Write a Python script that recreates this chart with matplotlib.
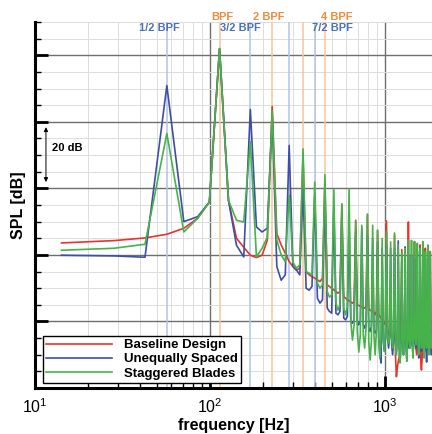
import numpy as np
import matplotlib
matplotlib.use("Agg")
import matplotlib.pyplot as plt
from matplotlib.ticker import MultipleLocator, LogLocator, NullFormatter

plt.rcParams['font.family'] = ['Liberation Sans', 'DejaVu Sans']
plt.rcParams['mathtext.fontset'] = 'custom'
plt.rcParams['mathtext.rm'] = 'Liberation Sans'

# ---- data ----
df = 14.17                      # frequency resolution [Hz]
n_bins = 131
freq = np.arange(1, n_bins + 1) * df

baseline = [
    43.6, 44.3, 45.1, 46.2,  48.0, 51.0, 55.9, 102.0,
    56.4, 45.0, 42.3, 39.9,  39.2, 39.9, 44.4, 84.6,
    46.4, 43.0, 40.5, 38.0,  36.5, 35.4, 36.0, 70.0,
    35.0, 34.0, 33.5, 33.0,  32.5, 32.0, 33.0, 62.0,
    31.0, 30.5, 30.0, 29.5,  29.0, 28.5, 29.0, 55.0,
    27.5, 27.0, 26.5, 26.2,  25.8, 25.5, 26.0, 50.4,
    25.0, 24.8, 24.6, 24.4,  24.2, 24.0, 24.5, 52.2,
    23.6, 23.4, 23.2, 23.0,  22.8, 22.0, 23.0, 47.4,
    22.0, 21.5, 21.0, 20.5,  20.0, 19.5, 19.0, 50.2,
    18.0, 16.0, 17.0, 16.0,  15.0, 13.0, 15.0, 46.0,
    10.0, 3.4, 6.0, 8.0,     9.0, 12.0, 14.0, 41.6,
    15.0, 13.0, 14.0, 15.0,  13.0, 11.0, 14.0, 49.9,
    14.0, 12.0, 13.0, 15.0,  13.5, 14.0, 16.0, 44.0,
    14.0, 12.0, 10.0, 12.0,  14.0, 13.0, 15.0, 43.0,
    8.0, 5.4, 9.0, 12.0,     13.0, 14.0, 15.0, 42.0,
    14.0, 13.0, 12.0, 14.0,  13.0, 12.0, 14.0, 41.0,
    13.0, 12.0, 14.0,
]

unequal = [
    39.9, 39.7, 39.3, 90.9,  50.0, 51.5, 55.9, 102.0,
    56.4, 42.9, 39.4, 83.7,  48.4, 46.9, 48.0, 82.0,
    36.5, 32.4, 34.0, 72.9,  36.6, 35.5, 34.0, 60.0,
    30.0, 29.4, 30.5, 58.0,  27.0, 25.5, 26.5, 58.0,
    24.0, 23.0, 22.5, 55.0,  22.5, 22.0, 23.0, 52.0,
    21.0, 20.5, 21.5, 50.0,  20.0, 19.5, 20.5, 47.0,
    20.0, 19.0, 20.0, 48.0,  19.0, 18.0, 19.5, 46.0,
    18.0, 17.0, 18.5, 45.0,  17.0, 16.5, 17.5, 44.0,
    15.0, 10.0, 7.5, 42.0,   14.0, 11.0, 15.0, 43.0,
    15.0, 12.0, 16.0, 42.0,  13.0, 10.0, 14.0, 42.0,
    14.0, 11.0, 15.0, 44.2,  12.0, 8.0, 13.0, 38.0,
    14.0, 10.0, 15.0, 42.4,  13.0, 9.0, 14.0, 40.0,
    12.0, 14.0, 15.0, 40.0,  13.0, 10.0, 14.0, 39.0,
    14.0, 12.0, 15.0, 41.0,  12.0, 9.0, 13.0, 38.0,
    14.0, 11.0, 15.0, 40.0,  13.0, 10.0, 14.0, 39.0,
    12.0, 7.8, 13.0, 40.0,   14.0, 11.0, 15.0, 39.0,
    13.0, 10.0, 14.0,
]

staggered = [
    41.4, 42.0, 43.2, 76.5,  46.9, 51.0, 55.9, 102.0,
    56.4, 50.4, 49.9, 74.0,  39.4, 42.0, 45.3, 83.4,
    44.5, 40.0, 38.0, 58.0,  37.8, 36.0, 37.0, 71.9,
    35.0, 34.5, 34.0, 61.9,  31.5, 30.0, 31.0, 64.1,
    29.0, 27.3, 28.0, 59.6,  25.5, 23.4, 25.0, 55.4,
    24.0, 22.0, 24.5, 59.9,  20.0, 14.4, 19.0, 50.0,
    17.0, 10.8, 16.0, 48.9,  16.0, 12.0, 18.0, 52.2,
    14.0, 8.4, 14.0, 48.9,   16.0, 10.0, 17.0, 47.4,
    14.0, 9.0, 15.0, 44.9,   16.0, 11.0, 18.0, 47.0,
    15.0, 13.5, 16.0, 43.9,  15.0, 12.0, 17.0, 46.6,
    13.0, 10.0, 15.0, 43.0,  14.0, 7.5, 12.0, 40.5,
    15.0, 10.0, 16.0, 42.0,  13.0, 8.0, 14.0, 44.4,
    15.0, 12.0, 16.0, 44.4,  14.0, 9.0, 15.0, 44.0,
    16.0, 13.0, 17.0, 43.5,  14.0, 10.0, 15.0, 42.0,
    15.0, 12.0, 16.0, 44.0,  13.0, 9.0, 14.0, 41.0,
    16.0, 12.0, 17.0, 43.0,  14.0, 10.0, 15.0, 41.0,
    15.0, 12.0, 16.0,
]

series_names = ["Baseline Design", "Unequally Spaced", "Staggered Blades"]
series_colors = ["#e8342c", "#3d4ea8", "#45b34a"]

bpf = 113.4
bpf_multiples = [1, 2, 3, 4]
half_multiples = [0.5, 1.5, 2.5, 3.5]
orange_labels = [("BPF", 117.0), ("2 BPF", 218.0), ("4 BPF", 529.0)]
blue_labels = [("1/2 BPF", 51.2), ("3/2 BPF", 150.1), ("7/2 BPF", 497.6)]

# ---- figure ----
fig = plt.figure(figsize=(4.32, 4.34), dpi=100)
ax = fig.add_axes([35 / 432, 1 - 388 / 434, 1 - 35 / 432, (388 - 22) / 434])

xmax = 10 ** (3 + 47 / 175)
ax.set_xscale('log')
ax.set_xlim(10, xmax)
ax.set_ylim(0, 110)

ax.yaxis.set_major_locator(MultipleLocator(20))
ax.yaxis.set_minor_locator(MultipleLocator(5))
ax.xaxis.set_major_locator(LogLocator(base=10, numticks=10))
ax.xaxis.set_minor_locator(LogLocator(base=10, subs=np.arange(2, 10), numticks=20))
ax.xaxis.set_minor_formatter(NullFormatter())
ax.set_yticklabels([])

ax.grid(which='minor', color='#dcdcdc', lw=0.7)
ax.grid(which='major', color='#6e6e6e', lw=1.0)
ax.set_axisbelow(True)

for m in bpf_multiples:
    ax.axvline(m * bpf, color='#f8c59c', lw=1.1, zorder=1)
for h in half_multiples:
    ax.axvline(h * bpf, color='#b3c3e6', lw=1.1, zorder=1)

for name, vals, c in zip(series_names, [baseline, unequal, staggered], series_colors):
    ax.plot(freq, vals, color=c, lw=1.2, label=name, zorder=3)

for s in ['top', 'right']:
    ax.spines[s].set_visible(False)
ax.spines['left'].set_linewidth(2.2)
ax.spines['bottom'].set_linewidth(2.2)

ax.tick_params(axis='both', which='major', direction='in', length=9, width=2.0,
               labelsize=11.5, colors='black')
ax.tick_params(axis='both', which='minor', direction='in', length=4.5, width=1.0)
ax.tick_params(axis='x', pad=7)

ax.set_xlabel("frequency [Hz]", fontsize=11.5, fontweight='bold', labelpad=1)
ax.set_ylabel("SPL [dB]", fontsize=11.5, fontweight='bold', labelpad=3)

for txt, x in orange_labels:
    ax.text(x, 111.6, txt, color='#f28a3a', fontsize=8, fontweight='bold',
            ha='center', va='center', clip_on=False)
for txt, x in blue_labels:
    ax.text(x, 108.3, txt, color='#4a72b8', fontsize=8, fontweight='bold',
            ha='center', va='center', clip_on=False)

ax.annotate('', xy=(11.55, 78.4), xytext=(11.55, 61.9),
            arrowprops=dict(arrowstyle='<|-|>', color='black', lw=0.7,
                            mutation_scale=6, shrinkA=0, shrinkB=0))
ax.text(12.46, 72.1, "20 dB", fontsize=8, fontweight='bold', ha='left', va='center')

leg = ax.legend(loc='lower left', bbox_to_anchor=(8 / 397, 0.0 + 5 / 366),
                prop={'weight': 'bold', 'size': 9.5}, frameon=True, fancybox=False,
                edgecolor='black', framealpha=1, handlelength=5.0, handletextpad=0.9,
                borderpad=0.25, labelspacing=0.15, borderaxespad=0)
leg.get_frame().set_linewidth(1.0)

fig.savefig("out.png", dpi=100)
